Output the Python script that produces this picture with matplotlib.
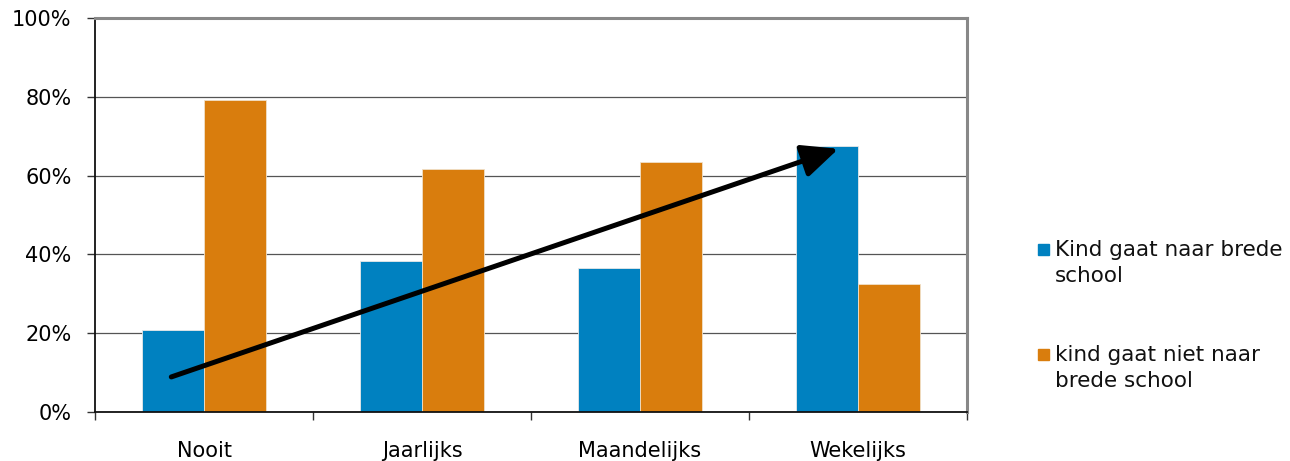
import numpy as np
import matplotlib.pyplot as plt
from matplotlib.patches import Rectangle
from matplotlib.ticker import FuncFormatter, MultipleLocator

categories = ['Nooit', 'Jaarlijks', 'Maandelijks', 'Wekelijks']
wel_brede_school = [20.8, 38.3, 36.5, 67.5]
niet_brede_school = [79.2, 61.7, 63.5, 32.5]
labels = ['Kind gaat naar brede\nschool', 'kind gaat niet naar\nbrede school']

# trend arrow, in (category position, percent)
arrow_start = (-0.15, 8.9)
arrow_end = (2.91, 66.8)

blue = '#0081C0'
orange = '#D97D0D'

plt.rcParams['font.family'] = 'DejaVu Sans'

W, H = 1290, 461
fig = plt.figure(figsize=(W / 100, H / 100), dpi=100)
ax = fig.add_axes([95 / W, 1 - 412 / H, 872 / W, 394 / H])

x = np.arange(len(categories))
w = 0.284
ax.bar(x - w / 2, wel_brede_school, w, color=blue, edgecolor='#E8E8E8', linewidth=0.6, zorder=2)
ax.bar(x + w / 2, niet_brede_school, w, color=orange, edgecolor='#F0E0C8', linewidth=0.6, zorder=2)

ax.annotate('', xy=arrow_end, xytext=arrow_start,
            arrowprops=dict(arrowstyle='-|>,head_length=1.1,head_width=0.5',
                            mutation_scale=20, color='black', lw=3.6,
                            shrinkA=0, shrinkB=0),
            zorder=5)

ax.set_xlim(-0.5, len(categories) - 0.5)
ax.set_ylim(0, 100)
ax.yaxis.set_major_locator(MultipleLocator(20))
ax.yaxis.set_major_formatter(FuncFormatter(lambda v, p: f'{v:.0f}%'))
ax.grid(axis='y', color='#555555', linewidth=0.9, zorder=0)

ax.set_xticks(x)
ax.set_xticklabels(categories)
ax.set_xticks(np.arange(-0.5, len(categories) + 0.5, 1), minor=True)
ax.tick_params(axis='x', which='major', length=0, pad=21, labelsize=15)
ax.tick_params(axis='x', which='minor', length=6, color='#333333', width=1)
ax.tick_params(axis='y', length=6, color='#333333', width=1, labelsize=15, pad=11)

for side in ['top', 'right']:
    ax.spines[side].set_color('#888888')
    ax.spines[side].set_linewidth(2.2)
for side in ['left', 'bottom']:
    ax.spines[side].set_color('#111111')
    ax.spines[side].set_linewidth(1.3)

# legend: square next to the first line of each two-line label
for colour, label, y in [(blue, labels[0], 250), (orange, labels[1], 355)]:
    fig.patches.append(Rectangle((1038 / W, 1 - (y + 5) / H), 11 / W, 11 / H,
                                 transform=fig.transFigure, color=colour))
    fig.text(1055 / W, 1 - (y - 10) / H, label, fontsize=15.5, va='top',
             ha='left', linespacing=1.4, color='#111111')

fig.savefig('out.png', dpi=100)
